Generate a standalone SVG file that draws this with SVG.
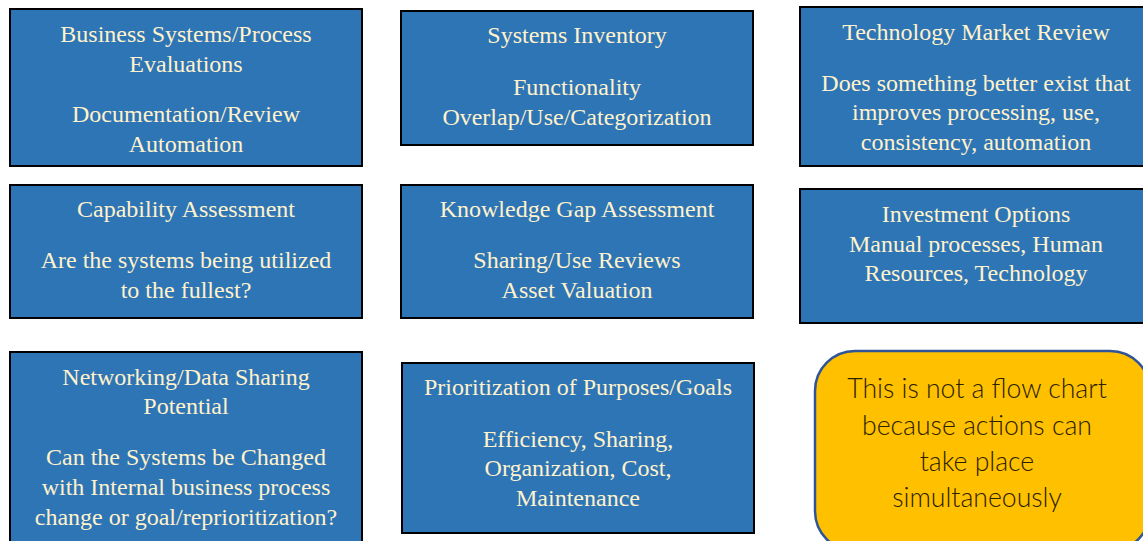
<svg xmlns="http://www.w3.org/2000/svg" width="1143" height="541" viewBox="0 0 1143 541">
  <style>
    .box { fill: #2e75b6; stroke: #000000; stroke-width: 2; }
    .lbl { font-family: "Liberation Serif", "Times New Roman", serif; font-size: 24px; fill: #fff2cc; text-anchor: middle; }
    .note { fill: #ffc000; stroke: #2f5597; stroke-width: 2.5; }
    .notetxt { font-family: Lato, "Open Sans", sans-serif; font-weight: 300; font-size: 26.6px; fill: #2b2100; text-anchor: middle; }
  </style>
  <rect width="1143" height="541" fill="#ffffff"/>

  <g id="business-systems">
    <rect class="box" x="10" y="9" width="352" height="157"/>
    <text class="lbl" x="186" y="42">Business Systems/Process</text>
    <text class="lbl" x="186" y="72">Evaluations</text>
    <text class="lbl" x="186" y="122">Documentation/Review</text>
    <text class="lbl" x="186" y="152">Automation</text>
  </g>

  <g id="systems-inventory">
    <rect class="box" x="401" y="11" width="352" height="134"/>
    <text class="lbl" x="577" y="43">Systems Inventory</text>
    <text class="lbl" x="577" y="95">Functionality</text>
    <text class="lbl" x="577" y="125">Overlap/Use/Categorization</text>
  </g>

  <g id="technology-market">
    <rect class="box" x="800" y="7" width="350" height="159"/>
    <text class="lbl" x="976" y="40">Technology Market Review</text>
    <text class="lbl" x="976" y="91">Does something better exist that</text>
    <text class="lbl" x="976" y="120">improves processing, use,</text>
    <text class="lbl" x="976" y="150">consistency, automation</text>
  </g>

  <g id="capability-assessment">
    <rect class="box" x="10" y="185" width="352" height="133"/>
    <text class="lbl" x="186" y="217">Capability Assessment</text>
    <text class="lbl" x="186" y="268">Are the systems being utilized</text>
    <text class="lbl" x="186" y="298">to the fullest?</text>
  </g>

  <g id="knowledge-gap">
    <rect class="box" x="401" y="185" width="352" height="133"/>
    <text class="lbl" x="577" y="217">Knowledge Gap Assessment</text>
    <text class="lbl" x="577" y="268">Sharing/Use Reviews</text>
    <text class="lbl" x="577" y="298">Asset Valuation</text>
  </g>

  <g id="investment-options">
    <rect class="box" x="800" y="189" width="350" height="134"/>
    <text class="lbl" x="976" y="222">Investment Options</text>
    <text class="lbl" x="976" y="252">Manual processes, Human</text>
    <text class="lbl" x="976" y="281">Resources, Technology</text>
  </g>

  <g id="networking">
    <rect class="box" x="10" y="352" width="352" height="200"/>
    <text class="lbl" x="186" y="385">Networking/Data Sharing</text>
    <text class="lbl" x="186" y="414">Potential</text>
    <text class="lbl" x="186" y="465">Can the Systems be Changed</text>
    <text class="lbl" x="186" y="495">with Internal business process</text>
    <text class="lbl" x="186" y="525">change or goal/reprioritization?</text>
  </g>

  <g id="prioritization">
    <rect class="box" x="402" y="363" width="352" height="170"/>
    <text class="lbl" x="578" y="395">Prioritization of Purposes/Goals</text>
    <text class="lbl" x="578" y="447">Efficiency, Sharing,</text>
    <text class="lbl" x="578" y="476">Organization, Cost,</text>
    <text class="lbl" x="578" y="506">Maintenance</text>
  </g>

  <g id="note">
    <rect class="note" x="815" y="351" width="335" height="200" rx="40" ry="40"/>
    <text class="notetxt" x="977" y="398">This is not a flow chart</text>
    <text class="notetxt" x="977" y="435">because actions can</text>
    <text class="notetxt" x="977" y="471">take place</text>
    <text class="notetxt" x="977" y="507">simultaneously</text>
  </g>

  <g id="connectors"></g>
</svg>
